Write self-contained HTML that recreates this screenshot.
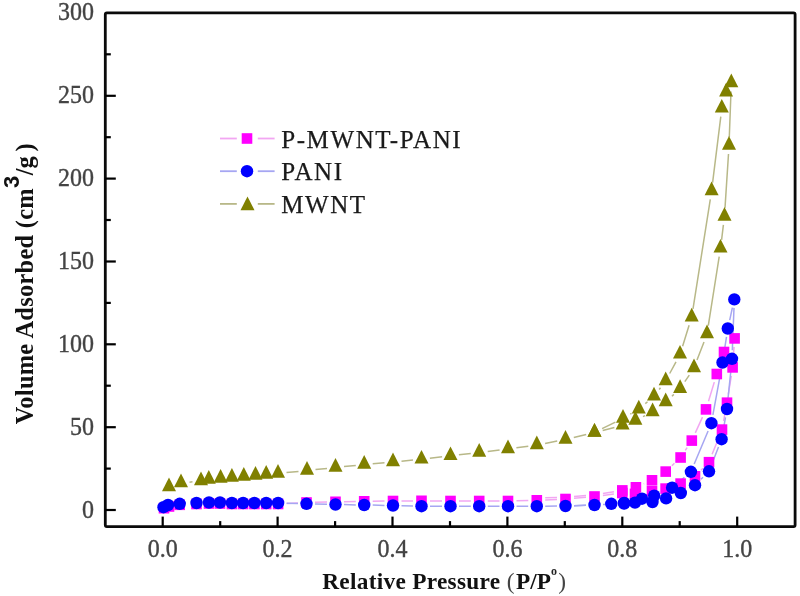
<!DOCTYPE html>
<html><head><meta charset="utf-8"><style>
html,body{margin:0;padding:0;background:#fff;}
body{width:800px;height:596px;overflow:hidden;}
svg{display:block;filter:blur(0.35px);}
</style></head><body>
<svg width="800" height="596" viewBox="0 0 800 596">
<rect width="800" height="596" fill="#fff"/>
<rect x="105.3" y="12.9" width="689.8" height="513.8" rx="1.6" fill="none" stroke="#0a0a0a" stroke-width="2.8"/>
<line x1="162.7" y1="526.6" x2="162.7" y2="516.6" stroke="#000" stroke-width="2.2"/>
<line x1="220.2" y1="526.6" x2="220.2" y2="521.1" stroke="#000" stroke-width="2.2"/>
<line x1="277.6" y1="526.6" x2="277.6" y2="516.6" stroke="#000" stroke-width="2.2"/>
<line x1="335.1" y1="526.6" x2="335.1" y2="521.1" stroke="#000" stroke-width="2.2"/>
<line x1="392.5" y1="526.6" x2="392.5" y2="516.6" stroke="#000" stroke-width="2.2"/>
<line x1="450.0" y1="526.6" x2="450.0" y2="521.1" stroke="#000" stroke-width="2.2"/>
<line x1="507.4" y1="526.6" x2="507.4" y2="516.6" stroke="#000" stroke-width="2.2"/>
<line x1="564.8" y1="526.6" x2="564.8" y2="521.1" stroke="#000" stroke-width="2.2"/>
<line x1="622.3" y1="526.6" x2="622.3" y2="516.6" stroke="#000" stroke-width="2.2"/>
<line x1="679.7" y1="526.6" x2="679.7" y2="521.1" stroke="#000" stroke-width="2.2"/>
<line x1="737.2" y1="526.6" x2="737.2" y2="516.6" stroke="#000" stroke-width="2.2"/>
<line x1="105.3" y1="510.0" x2="115.8" y2="510.0" stroke="#000" stroke-width="2.2"/>
<line x1="105.3" y1="468.6" x2="110.8" y2="468.6" stroke="#000" stroke-width="2.2"/>
<line x1="105.3" y1="427.2" x2="115.8" y2="427.2" stroke="#000" stroke-width="2.2"/>
<line x1="105.3" y1="385.7" x2="110.8" y2="385.7" stroke="#000" stroke-width="2.2"/>
<line x1="105.3" y1="344.3" x2="115.8" y2="344.3" stroke="#000" stroke-width="2.2"/>
<line x1="105.3" y1="302.9" x2="110.8" y2="302.9" stroke="#000" stroke-width="2.2"/>
<line x1="105.3" y1="261.5" x2="115.8" y2="261.5" stroke="#000" stroke-width="2.2"/>
<line x1="105.3" y1="220.0" x2="110.8" y2="220.0" stroke="#000" stroke-width="2.2"/>
<line x1="105.3" y1="178.6" x2="115.8" y2="178.6" stroke="#000" stroke-width="2.2"/>
<line x1="105.3" y1="137.2" x2="110.8" y2="137.2" stroke="#000" stroke-width="2.2"/>
<line x1="105.3" y1="95.8" x2="115.8" y2="95.8" stroke="#000" stroke-width="2.2"/>
<line x1="105.3" y1="54.3" x2="110.8" y2="54.3" stroke="#000" stroke-width="2.2"/>
<path d="M189.5 482.2L192.5 481.8M286.5 472.6L298.5 471.4M315.5 469.6L327.0 468.4M344.0 466.6L355.8 465.4M372.7 463.8L384.5 462.7M401.5 461.2L413.0 460.1M429.9 458.3L442.1 456.8M458.9 454.8L470.8 453.5M487.7 451.5L499.6 450.0M516.4 447.8L528.3 446.2M545.1 443.4L557.2 441.1M573.8 437.5L586.2 434.5M602.7 430.4L614.4 427.4M643.0 416.7L645.0 415.7M672.0 396.2L673.8 394.4M684.8 381.6L689.3 375.1M697.0 360.1L704.0 341.9M708.3 325.6L719.2 256.7M721.6 239.9L723.4 224.8M725.0 207.9L728.5 154.0M729.3 137.0L731.0 91.5" fill="none" stroke="#b8b888" stroke-width="1.5"/>
<path d="M720.8 116.7L712.6 182.6M710.3 199.4L693.0 308.8M689.1 325.3L682.6 346.2M676.0 361.8L669.7 373.5M660.5 387.7L659.2 389.5M647.5 401.7L645.3 403.6M631.5 413.4L630.3 414.1M615.4 422.2L602.1 428.7" fill="none" stroke="#b8b888" stroke-width="1.5"/>
<path d="M286.6 503.6L298.0 502.9M315.0 502.3L327.0 502.0M344.0 501.7L355.8 501.4M372.7 501.2L384.5 501.1M401.5 500.9L413.0 500.9M430.0 500.9L442.0 500.9M459.0 501.0L470.8 501.0M487.8 501.0L499.5 501.0M516.5 500.8L528.3 500.5M545.2 499.9L557.0 499.4M574.0 498.3L586.0 497.2M602.9 495.4L613.9 494.1M701.0 470.3L703.0 468.2M712.1 454.3L718.9 437.5M723.6 421.2L725.4 411.1M728.3 394.3L731.3 375.8M733.2 358.9L734.0 346.9" fill="none" stroke="#f2a6f2" stroke-width="1.5"/>
<path d="M721.4 360.1L719.4 365.9M714.3 382.1L708.5 401.3M702.5 417.1L695.3 432.9M687.1 447.7L685.3 450.4M674.4 463.3L671.9 465.8M644.2 483.7L643.7 483.9M613.9 491.8L602.9 493.6M586.0 495.6L574.0 496.4M557.0 497.4L545.2 497.8" fill="none" stroke="#f2a6f2" stroke-width="1.5"/>
<path d="M286.6 503.2L298.0 503.5M315.0 504.0L327.0 504.3M344.0 504.6L355.8 504.9M372.7 505.1L384.5 505.4M401.5 505.7L413.0 506.0M430.0 506.2L442.0 506.2M459.0 506.2L470.8 506.2M487.8 506.2L499.5 506.2M516.5 506.2L528.2 506.2M545.2 506.2L557.0 506.1M574.0 505.7L586.0 505.3M603.0 504.6L615.6 503.9M643.5 502.3L644.0 502.3M701.0 479.2L703.0 477.3M712.1 463.4L718.5 447.1M723.1 430.8L725.5 417.4M727.8 400.5L731.2 367.3M732.3 350.3L734.0 307.9" fill="none" stroke="#a6a6f2" stroke-width="1.5"/>
<path d="M732.4 307.7L729.7 320.2M726.5 336.9L723.8 354.1M721.0 370.9L712.9 414.8M708.1 431.0L694.2 464.0M684.4 477.3L678.6 482.2M664.3 491.1L662.0 492.2M633.7 500.7L632.4 501.0M586.0 505.3L574.0 505.7" fill="none" stroke="#a6a6f2" stroke-width="1.5"/>
<polygon points="162.0,491.3 176.0,491.3 169.0,477.6" fill="#808000"/>
<polygon points="174.0,487.3 188.0,487.3 181.0,473.6" fill="#808000"/>
<polygon points="194.0,485.3 208.0,485.3 201.0,471.6" fill="#808000"/>
<polygon points="201.8,483.8 215.8,483.8 208.8,470.1" fill="#808000"/>
<polygon points="213.6,482.8 227.6,482.8 220.6,469.1" fill="#808000"/>
<polygon points="224.9,481.8 238.9,481.8 231.9,468.1" fill="#808000"/>
<polygon points="236.8,480.7 250.8,480.7 243.8,467.0" fill="#808000"/>
<polygon points="248.5,479.8 262.5,479.8 255.5,466.1" fill="#808000"/>
<polygon points="259.2,478.8 273.2,478.8 266.2,465.1" fill="#808000"/>
<polygon points="271.0,477.8 285.0,477.8 278.0,464.1" fill="#808000"/>
<polygon points="300.0,474.8 314.0,474.8 307.0,461.1" fill="#808000"/>
<polygon points="328.5,471.8 342.5,471.8 335.5,458.1" fill="#808000"/>
<polygon points="357.2,468.8 371.2,468.8 364.2,455.1" fill="#808000"/>
<polygon points="386.0,466.3 400.0,466.3 393.0,452.6" fill="#808000"/>
<polygon points="414.5,463.6 428.5,463.6 421.5,449.9" fill="#808000"/>
<polygon points="443.5,460.1 457.5,460.1 450.5,446.4" fill="#808000"/>
<polygon points="472.2,456.8 486.2,456.8 479.2,443.1" fill="#808000"/>
<polygon points="501.0,453.3 515.0,453.3 508.0,439.6" fill="#808000"/>
<polygon points="529.8,449.3 543.8,449.3 536.8,435.6" fill="#808000"/>
<polygon points="558.5,443.8 572.5,443.8 565.5,430.1" fill="#808000"/>
<polygon points="587.5,436.8 601.5,436.8 594.5,423.1" fill="#808000"/>
<polygon points="615.6,429.6 629.6,429.6 622.6,415.9" fill="#808000"/>
<polygon points="628.4,424.8 642.4,424.8 635.4,411.1" fill="#808000"/>
<polygon points="645.6,416.2 659.6,416.2 652.6,402.5" fill="#808000"/>
<polygon points="658.7,406.2 672.7,406.2 665.7,392.5" fill="#808000"/>
<polygon points="673.1,393.0 687.1,393.0 680.1,379.3" fill="#808000"/>
<polygon points="687.0,372.3 701.0,372.3 694.0,358.6" fill="#808000"/>
<polygon points="700.0,338.3 714.0,338.3 707.0,324.6" fill="#808000"/>
<polygon points="713.5,252.6 727.5,252.6 720.5,238.9" fill="#808000"/>
<polygon points="717.5,220.7 731.5,220.7 724.5,207.0" fill="#808000"/>
<polygon points="722.0,149.8 736.0,149.8 729.0,136.1" fill="#808000"/>
<polygon points="724.3,87.3 738.3,87.3 731.3,73.6" fill="#808000"/>
<polygon points="719.1,96.5 733.1,96.5 726.1,82.8" fill="#808000"/>
<polygon points="714.8,112.6 728.8,112.6 721.8,98.9" fill="#808000"/>
<polygon points="704.6,195.3 718.6,195.3 711.6,181.6" fill="#808000"/>
<polygon points="684.7,321.5 698.7,321.5 691.7,307.8" fill="#808000"/>
<polygon points="673.0,358.6 687.0,358.6 680.0,344.9" fill="#808000"/>
<polygon points="658.7,385.3 672.7,385.3 665.7,371.6" fill="#808000"/>
<polygon points="647.0,400.5 661.0,400.5 654.0,386.8" fill="#808000"/>
<polygon points="631.8,413.4 645.8,413.4 638.8,399.7" fill="#808000"/>
<polygon points="616.0,422.7 630.0,422.7 623.0,409.0" fill="#808000"/>
<polygon points="587.5,436.8 601.5,436.8 594.5,423.1" fill="#808000"/>
<rect x="158.7" y="502.9" width="10.6" height="10.6" fill="#ff00ff"/>
<rect x="163.7" y="501.2" width="10.6" height="10.6" fill="#ff00ff"/>
<rect x="174.4" y="499.5" width="10.6" height="10.6" fill="#ff00ff"/>
<rect x="191.2" y="498.7" width="10.6" height="10.6" fill="#ff00ff"/>
<rect x="203.7" y="498.2" width="10.6" height="10.6" fill="#ff00ff"/>
<rect x="214.7" y="498.2" width="10.6" height="10.6" fill="#ff00ff"/>
<rect x="226.6" y="498.7" width="10.6" height="10.6" fill="#ff00ff"/>
<rect x="237.8" y="498.7" width="10.6" height="10.6" fill="#ff00ff"/>
<rect x="249.1" y="498.7" width="10.6" height="10.6" fill="#ff00ff"/>
<rect x="260.9" y="498.7" width="10.6" height="10.6" fill="#ff00ff"/>
<rect x="272.8" y="498.7" width="10.6" height="10.6" fill="#ff00ff"/>
<rect x="301.2" y="497.2" width="10.6" height="10.6" fill="#ff00ff"/>
<rect x="330.2" y="496.5" width="10.6" height="10.6" fill="#ff00ff"/>
<rect x="358.9" y="496.0" width="10.6" height="10.6" fill="#ff00ff"/>
<rect x="387.7" y="495.7" width="10.6" height="10.6" fill="#ff00ff"/>
<rect x="416.2" y="495.5" width="10.6" height="10.6" fill="#ff00ff"/>
<rect x="445.2" y="495.7" width="10.6" height="10.6" fill="#ff00ff"/>
<rect x="473.9" y="495.7" width="10.6" height="10.6" fill="#ff00ff"/>
<rect x="502.7" y="495.7" width="10.6" height="10.6" fill="#ff00ff"/>
<rect x="531.5" y="495.0" width="10.6" height="10.6" fill="#ff00ff"/>
<rect x="560.2" y="493.7" width="10.6" height="10.6" fill="#ff00ff"/>
<rect x="589.2" y="491.2" width="10.6" height="10.6" fill="#ff00ff"/>
<rect x="617.0" y="487.7" width="10.6" height="10.6" fill="#ff00ff"/>
<rect x="629.7" y="488.6" width="10.6" height="10.6" fill="#ff00ff"/>
<rect x="646.7" y="485.9" width="10.6" height="10.6" fill="#ff00ff"/>
<rect x="660.3" y="483.3" width="10.6" height="10.6" fill="#ff00ff"/>
<rect x="675.3" y="478.3" width="10.6" height="10.6" fill="#ff00ff"/>
<rect x="689.7" y="471.0" width="10.6" height="10.6" fill="#ff00ff"/>
<rect x="703.7" y="456.9" width="10.6" height="10.6" fill="#ff00ff"/>
<rect x="716.7" y="424.3" width="10.6" height="10.6" fill="#ff00ff"/>
<rect x="721.7" y="397.4" width="10.6" height="10.6" fill="#ff00ff"/>
<rect x="727.3" y="362.1" width="10.6" height="10.6" fill="#ff00ff"/>
<rect x="729.3" y="333.1" width="10.6" height="10.6" fill="#ff00ff"/>
<rect x="718.7" y="346.7" width="10.6" height="10.6" fill="#ff00ff"/>
<rect x="711.5" y="368.7" width="10.6" height="10.6" fill="#ff00ff"/>
<rect x="700.7" y="404.1" width="10.6" height="10.6" fill="#ff00ff"/>
<rect x="686.5" y="435.3" width="10.6" height="10.6" fill="#ff00ff"/>
<rect x="675.3" y="452.2" width="10.6" height="10.6" fill="#ff00ff"/>
<rect x="660.4" y="466.3" width="10.6" height="10.6" fill="#ff00ff"/>
<rect x="646.7" y="475.0" width="10.6" height="10.6" fill="#ff00ff"/>
<rect x="630.6" y="482.0" width="10.6" height="10.6" fill="#ff00ff"/>
<rect x="617.0" y="485.1" width="10.6" height="10.6" fill="#ff00ff"/>
<circle cx="163.5" cy="507.2" r="6.2" fill="#0000ff"/>
<circle cx="168.0" cy="505.0" r="6.2" fill="#0000ff"/>
<circle cx="179.7" cy="503.8" r="6.2" fill="#0000ff"/>
<circle cx="196.5" cy="503.0" r="6.2" fill="#0000ff"/>
<circle cx="209.0" cy="502.5" r="6.2" fill="#0000ff"/>
<circle cx="220.0" cy="502.5" r="6.2" fill="#0000ff"/>
<circle cx="231.9" cy="503.0" r="6.2" fill="#0000ff"/>
<circle cx="243.1" cy="503.0" r="6.2" fill="#0000ff"/>
<circle cx="254.4" cy="503.0" r="6.2" fill="#0000ff"/>
<circle cx="266.2" cy="503.0" r="6.2" fill="#0000ff"/>
<circle cx="278.1" cy="503.0" r="6.2" fill="#0000ff"/>
<circle cx="306.5" cy="503.8" r="6.2" fill="#0000ff"/>
<circle cx="335.5" cy="504.5" r="6.2" fill="#0000ff"/>
<circle cx="364.2" cy="505.0" r="6.2" fill="#0000ff"/>
<circle cx="393.0" cy="505.5" r="6.2" fill="#0000ff"/>
<circle cx="421.5" cy="506.2" r="6.2" fill="#0000ff"/>
<circle cx="450.5" cy="506.2" r="6.2" fill="#0000ff"/>
<circle cx="479.2" cy="506.2" r="6.2" fill="#0000ff"/>
<circle cx="508.0" cy="506.2" r="6.2" fill="#0000ff"/>
<circle cx="536.8" cy="506.2" r="6.2" fill="#0000ff"/>
<circle cx="565.5" cy="506.0" r="6.2" fill="#0000ff"/>
<circle cx="594.5" cy="505.0" r="6.2" fill="#0000ff"/>
<circle cx="624.1" cy="503.5" r="6.2" fill="#0000ff"/>
<circle cx="635.0" cy="502.6" r="6.2" fill="#0000ff"/>
<circle cx="652.5" cy="502.0" r="6.2" fill="#0000ff"/>
<circle cx="666.1" cy="498.4" r="6.2" fill="#0000ff"/>
<circle cx="680.8" cy="493.0" r="6.2" fill="#0000ff"/>
<circle cx="695.0" cy="485.2" r="6.2" fill="#0000ff"/>
<circle cx="709.0" cy="471.3" r="6.2" fill="#0000ff"/>
<circle cx="721.6" cy="439.2" r="6.2" fill="#0000ff"/>
<circle cx="727.0" cy="409.0" r="6.2" fill="#0000ff"/>
<circle cx="732.0" cy="358.8" r="6.2" fill="#0000ff"/>
<circle cx="734.3" cy="299.4" r="6.2" fill="#0000ff"/>
<circle cx="727.8" cy="328.5" r="6.2" fill="#0000ff"/>
<circle cx="722.5" cy="362.5" r="6.2" fill="#0000ff"/>
<circle cx="711.4" cy="423.2" r="6.2" fill="#0000ff"/>
<circle cx="690.9" cy="471.8" r="6.2" fill="#0000ff"/>
<circle cx="672.1" cy="487.7" r="6.2" fill="#0000ff"/>
<circle cx="654.2" cy="495.6" r="6.2" fill="#0000ff"/>
<circle cx="642.0" cy="498.7" r="6.2" fill="#0000ff"/>
<circle cx="624.1" cy="503.0" r="6.2" fill="#0000ff"/>
<circle cx="611.3" cy="503.8" r="6.2" fill="#0000ff"/>
<line x1="220" y1="138.5" x2="236.8" y2="138.5" stroke="#f2a6f2" stroke-width="1.8"/>
<line x1="257.8" y1="138.5" x2="274.6" y2="138.5" stroke="#f2a6f2" stroke-width="1.8"/>
<rect x="241.7" y="133.2" width="10.6" height="10.6" fill="#ff00ff"/>
<line x1="220" y1="171.2" x2="236.8" y2="171.2" stroke="#a6a6f2" stroke-width="1.8"/>
<line x1="257.8" y1="171.2" x2="274.6" y2="171.2" stroke="#a6a6f2" stroke-width="1.8"/>
<circle cx="247.0" cy="171.2" r="6.2" fill="#0000ff"/>
<line x1="220" y1="203.9" x2="236.8" y2="203.9" stroke="#b8b888" stroke-width="1.8"/>
<line x1="257.8" y1="203.9" x2="274.6" y2="203.9" stroke="#b8b888" stroke-width="1.8"/>
<polygon points="240.5,210.2 254.5,210.2 247.5,196.5" fill="#808000"/>
<text transform="translate(94,517.5) scale(1,1.05)" text-anchor="end" font-family="Liberation Serif" font-size="24" fill="#444" stroke="#444" stroke-width="0.35">0</text>
<text transform="translate(94,434.7) scale(1,1.05)" text-anchor="end" font-family="Liberation Serif" font-size="24" fill="#444" stroke="#444" stroke-width="0.35">50</text>
<text transform="translate(94,351.8) scale(1,1.05)" text-anchor="end" font-family="Liberation Serif" font-size="24" fill="#444" stroke="#444" stroke-width="0.35">100</text>
<text transform="translate(94,269.0) scale(1,1.05)" text-anchor="end" font-family="Liberation Serif" font-size="24" fill="#444" stroke="#444" stroke-width="0.35">150</text>
<text transform="translate(94,186.1) scale(1,1.05)" text-anchor="end" font-family="Liberation Serif" font-size="24" fill="#444" stroke="#444" stroke-width="0.35">200</text>
<text transform="translate(94,103.3) scale(1,1.05)" text-anchor="end" font-family="Liberation Serif" font-size="24" fill="#444" stroke="#444" stroke-width="0.35">250</text>
<text transform="translate(94,20.4) scale(1,1.05)" text-anchor="end" font-family="Liberation Serif" font-size="24" fill="#444" stroke="#444" stroke-width="0.35">300</text>
<text transform="translate(162.7,557) scale(1,1.05)" text-anchor="middle" font-family="Liberation Serif" font-size="24" fill="#444" stroke="#444" stroke-width="0.35">0.0</text>
<text transform="translate(277.6,557) scale(1,1.05)" text-anchor="middle" font-family="Liberation Serif" font-size="24" fill="#444" stroke="#444" stroke-width="0.35">0.2</text>
<text transform="translate(392.5,557) scale(1,1.05)" text-anchor="middle" font-family="Liberation Serif" font-size="24" fill="#444" stroke="#444" stroke-width="0.35">0.4</text>
<text transform="translate(507.4,557) scale(1,1.05)" text-anchor="middle" font-family="Liberation Serif" font-size="24" fill="#444" stroke="#444" stroke-width="0.35">0.6</text>
<text transform="translate(622.3,557) scale(1,1.05)" text-anchor="middle" font-family="Liberation Serif" font-size="24" fill="#444" stroke="#444" stroke-width="0.35">0.8</text>
<text transform="translate(737.2,557) scale(1,1.05)" text-anchor="middle" font-family="Liberation Serif" font-size="24" fill="#444" stroke="#444" stroke-width="0.35">1.0</text>
<text x="281.2" y="147.5" font-family="Liberation Serif" font-size="25" letter-spacing="1.6" fill="#1a1a1a" stroke="#1a1a1a" stroke-width="0.25">P-MWNT-PANI</text>
<text x="281.2" y="180.2" font-family="Liberation Serif" font-size="25" letter-spacing="1.6" fill="#1a1a1a" stroke="#1a1a1a" stroke-width="0.25">PANI</text>
<text x="281.2" y="212.9" font-family="Liberation Serif" font-size="25" letter-spacing="1.6" fill="#1a1a1a" stroke="#1a1a1a" stroke-width="0.25">MWNT</text>
<text x="322.2" y="589" font-family="Liberation Serif" font-size="23.3" font-weight="bold" letter-spacing="0.3" fill="#111">Relative Pressure</text>
<text x="506.8" y="589" font-family="Liberation Serif" font-size="23.3" fill="#444">(</text>
<text x="516" y="589" font-family="Liberation Serif" font-size="23.3" font-weight="bold" fill="#111">P/P</text>
<text x="551" y="575" font-family="Liberation Serif" font-size="12" font-weight="bold" fill="#222">o</text>
<text x="558.3" y="589" font-family="Liberation Serif" font-size="23.3" fill="#444">)</text>
<g transform="translate(33,424.3) rotate(-90)"><text x="0" y="0" font-family="Liberation Serif" font-size="24.4" font-weight="bold" fill="#111" letter-spacing="0.28">Volume Adsorbed (cm</text><text x="236.2" y="-14.3" font-family="Liberation Sans" font-size="22" font-weight="bold" fill="#111">3</text><text x="249" y="0" font-family="Liberation Serif" font-size="24.4" font-weight="bold" fill="#111">/g</text><text x="272.8" y="0" font-family="Liberation Serif" font-size="24.4" font-weight="bold" fill="#111">)</text></g>
</svg>
</body></html>
